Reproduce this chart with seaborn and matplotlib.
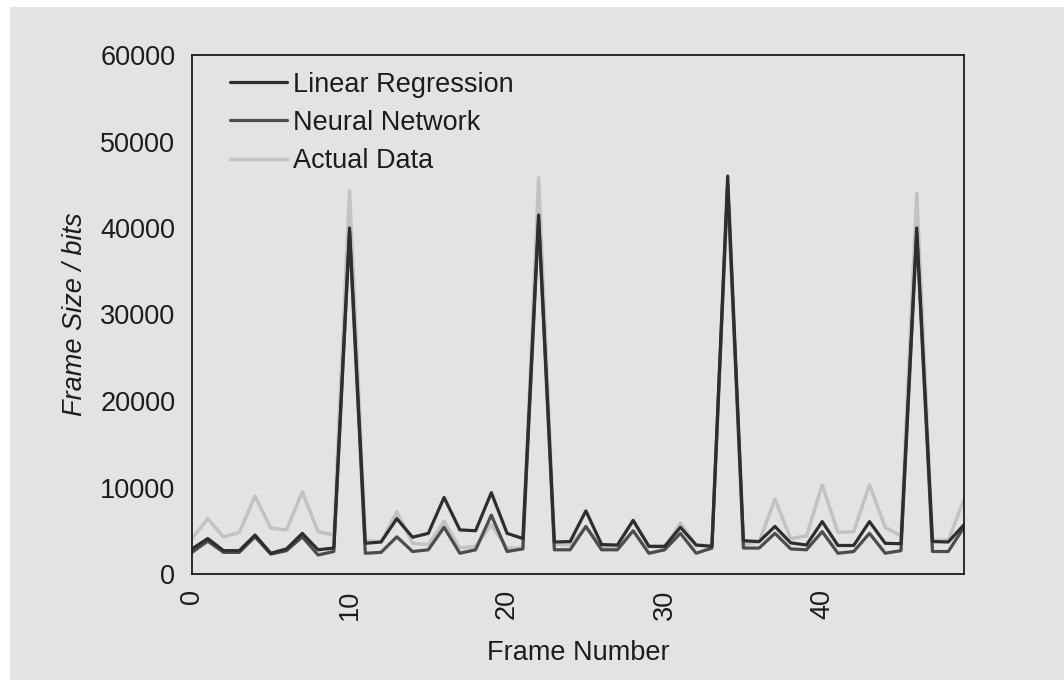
import numpy as np
import pandas as pd
import matplotlib
matplotlib.use("Agg")
import matplotlib.pyplot as plt
import seaborn as sns
from matplotlib.lines import Line2D
from matplotlib.patches import Rectangle

frames = list(range(50))
linear_regression = [2900, 4100, 2700, 2700, 4500, 2400, 2900, 4700, 2800, 3000,
                     40000, 3550, 3700, 6400, 4250, 4700, 8850, 5100, 5000, 9400,
                     4700, 4100, 41500, 3700, 3750, 7300, 3400, 3350, 6200, 3200,
                     3200, 5400, 3350, 3200, 46000, 3850, 3750, 5500, 3600, 3350,
                     6060, 3300, 3300, 6060, 3550, 3500, 40000, 3750, 3700, 5700]
neural_network = [2500, 3800, 2500, 2500, 4300, 2300, 2700, 4300, 2200, 2600,
                  39500, 2400, 2500, 4300, 2600, 2800, 5400, 2400, 2800, 6800,
                  2600, 2900, 41000, 2800, 2800, 5500, 2800, 2800, 5000, 2400,
                  2800, 4700, 2400, 3000, 45000, 3000, 3000, 4700, 2900, 2800,
                  4900, 2400, 2600, 4700, 2400, 2700, 39500, 2600, 2600, 5400]
actual_data = [4100, 6400, 4300, 4800, 9000, 5300, 5100, 9500, 4900, 4500,
               44300, 3900, 3700, 7200, 3550, 3400, 6100, 3000, 3200, 5700,
               3000, 3000, 45800, 3500, 3350, 5400, 3200, 3200, 6200, 3200,
               3000, 5900, 3300, 3300, 44300, 3400, 3750, 8650, 4100, 4400,
               10300, 4800, 4900, 10300, 5400, 4400, 44000, 3900, 3900, 8600]
series_names = ["Linear Regression", "Neural Network", "Actual Data"]
y_ticks = [0, 10000, 20000, 30000, 40000, 50000, 60000]
x_ticks = [0, 10, 20, 30, 40]

bg = "#e3e3e3"
ink = "#1c1c1c"
colors = {"Linear Regression": "#2e2e2e", "Neural Network": "#4c4c4c", "Actual Data": "#c2c2c2"}
widths = {"Linear Regression": 2.3, "Neural Network": 2.3, "Actual Data": 2.5}

df = pd.concat([
    pd.DataFrame({"frame": frames, "value": linear_regression, "series": series_names[0]}),
    pd.DataFrame({"frame": frames, "value": neural_network, "series": series_names[1]}),
    pd.DataFrame({"frame": frames, "value": actual_data, "series": series_names[2]}),
])

sns.set_theme(style="white")
plt.rcParams["font.family"] = ["Liberation Sans", "DejaVu Sans"]
plt.rcParams["text.color"] = ink

fig = plt.figure(figsize=(10.64, 6.8), dpi=100, facecolor=bg)
# white scan border at top and left
fig.patches.append(Rectangle((0, 1 - 7/680), 1, 7/680, transform=fig.transFigure,
                             facecolor="white", edgecolor="none", zorder=0))
fig.patches.append(Rectangle((0, 0), 10/1064, 1, transform=fig.transFigure,
                             facecolor="white", edgecolor="none", zorder=0))
ax = fig.add_axes([192/1064, 1 - 574/680, (964-192)/1064, (574-55)/680])
ax.set_facecolor(bg)

for name in ["Actual Data", "Neural Network", "Linear Regression"]:
    sns.lineplot(data=df[df["series"] == name], x="frame", y="value", ax=ax,
                 color=colors[name], linewidth=widths[name], legend=False,
                 estimator=None)

ax.set_xlim(0, 49)
ax.set_ylim(0, 60000)
ax.set_yticks(y_ticks)
ax.set_yticklabels([str(v) for v in y_ticks])
ax.set_xticks(x_ticks)
ax.set_xticklabels([str(v) for v in x_ticks], rotation=90)
ax.tick_params(axis="both", direction="inout", length=12, width=1.2,
               colors=ink, labelsize=19.5, labelcolor=ink)
ax.tick_params(axis="y", pad=6)
ax.tick_params(axis="x", pad=5)
for s in ax.spines.values():
    s.set_visible(True)
    s.set_color(ink)
    s.set_linewidth(1.3)

ax.set_xlabel("Frame Number", fontsize=19.5, color=ink, labelpad=15)
ax.set_ylabel("Frame Size / bits", fontsize=19.5, color=ink, style="italic", labelpad=9)

handles = [Line2D([], [], color=colors[n], linewidth=widths[n]) for n in series_names]
ax.legend(handles, series_names, loc="upper left", bbox_to_anchor=(0.049, 0.968),
          frameon=False, fontsize=19.5, handlelength=2.1, handletextpad=0.25,
          labelspacing=0.45, borderaxespad=0, borderpad=0)

fig.savefig("out.png", dpi=100, facecolor=bg)
